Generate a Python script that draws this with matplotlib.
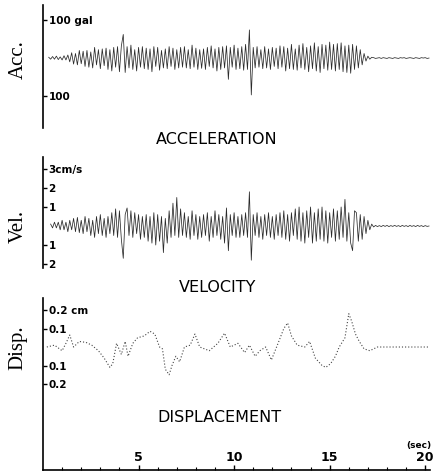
#import libraries
import numpy as np
import matplotlib.pyplot as plt

#acceleration record (gal), one sample every 0.1 sec starting at 0.3 sec
acc = [2, -3, 4, -3, 5, -4, 3, -5, 6, -5,
       8, -10, 14, -16, 12, -18, 20, -15, 18, -22,
       20, -24, 16, -26, 28, -18, 22, -28, 24, -20,
       26, -30, 22, -34, 28, -24, 30, -36, 32, 62,
       -38, 30, -26, 34, -30, 22, -34, 28, -24, 30,
       -28, 26, -30, 24, -36, 30, -22, 28, -32, 20,
       -26, 24, -28, 30, -22, 26, -30, 22, -26, 28,
       -24, 30, -26, 22, -28, 34, -24, 26, -30, 22,
       -27, 24, -30, 28, -22, 32, -26, 24, -34, 28,
       -30, 30, -26, 32, -56, 28, -24, 34, -30, 26,
       -28, 30, -32, 36, -30, 74, -97, 28, -26, 30,
       -24, 22, -28, 30, -26, 24, -30, 28, -22, 26,
       -28, 32, -24, 30, -34, 26, -28, 36, -30, 24,
       -32, 34, -26, 38, -30, 28, -36, 32, -28, 40,
       -34, 30, -38, 36, -28, 34, -32, 42, -30, 36,
       -34, 38, -30, 40, -36, 32, -38, 34, -40, 36,
       -30, 32, -26, 22, -18, 12, -8, 5, -3, 2,
       1, -1, 0, 1, -1, 1, 0, -1, 1, 0,
       -1, 1, 0, -1, 1, 0, 1, -1, 0, 1,
       0, -1, 1, 0, -1, 1, 0, 1, -1, 0]
acc_t0 = 0.3

#velocity record (cm/s), one sample every 0.1 sec starting at 0.4 sec
vel = [0.1, -0.1, 0.2, -0.1, 0.2, -0.2, 0.3, -0.2, 0.2, -0.3,
       0.3, -0.2, 0.4, -0.3, 0.45, -0.35, 0.3, -0.4, 0.5, -0.3,
       0.4, -0.5, 0.3, -0.6, 0.5, -0.4, 0.6, -0.5, 0.4, -0.6,
       0.5, -0.4, 0.7, -0.5, 0.9, -0.6, 0.8, -0.7, -1.7, 0.6,
       0.95, -0.5, 0.8, -0.6, 0.7, -0.4, 0.6, -0.7, 0.5, -0.6,
       0.6, -0.8, 0.5, -0.9, 0.7, -1.0, 0.6, -0.8, 0.5, -1.4,
       0.4, -0.9, 0.8, -0.6, 1.2, -0.5, 1.5, -0.6, 0.9, -0.5,
       0.7, -0.6, 0.5, -0.7, 0.8, -0.5, 0.6, -0.7, 0.5, -0.6,
       0.6, -0.5, 0.7, -0.8, 0.5, -0.6, 0.8, -0.5, 0.6, -0.7,
       0.5, -0.9, 0.95, -1.3, 0.6, -0.5, 0.7, -0.6, 0.5, -0.6,
       0.6, -0.5, 0.7, -0.6, 1.8, -1.8, 0.6, -0.5, 0.7, -0.6,
       0.5, -0.7, 0.6, -0.5, 0.7, -0.6, 0.5, -0.7, 0.6, -0.5,
       0.7, -0.6, 0.8, -0.7, 0.6, -0.8, 0.7, -0.5, 0.9, -0.7,
       1.0, -0.8, 0.7, -0.9, 0.8, -0.6, 1.0, -0.9, 0.7, -0.8,
       0.9, -0.7, 1.0, -0.8, 0.8, -0.9, 0.7, -0.6, 0.9, -0.8,
       0.8, -0.7, 1.0, -0.6, 1.4, -0.8, 0.7, -0.9, -1.3, 0.8,
       0.7, -0.8, 0.6, -0.7, 0.5, -0.4, 0.3, -0.2, 0.1, -0.05,
       0.03, -0.03, 0.02, -0.03, 0.03, -0.02, 0.03, -0.03, 0.02, -0.02,
       0.03, -0.02, 0.02, -0.03, 0.03, -0.02, 0.02, -0.03, 0.03, -0.02,
       0.02, -0.03, 0.03, -0.02, 0.02, -0.03, 0.02, -0.02, 0.0]
vel_t0 = 0.4

#displacement record (cm), read point by point
disp_t = [0.2, 0.6, 1.0, 1.2, 1.4, 1.6, 1.9, 2.25, 2.55, 2.9, 3.2, 3.5, 3.65, 3.85,
          4.1, 4.3, 4.45, 4.7, 4.95, 5.3, 5.6, 5.85, 6.1, 6.25, 6.4, 6.6, 6.75, 6.95,
          7.15, 7.4, 7.7, 7.95, 8.2, 8.7, 9.15, 9.5, 9.8, 10.2, 10.55, 10.8, 11.1,
          11.35, 11.65, 11.95, 12.3, 12.6, 12.8, 13.0, 13.3, 13.7, 13.95, 14.25, 14.6,
          14.8, 15.05, 15.3, 15.5, 15.8, 16.0, 16.15, 16.35, 16.55, 16.8, 17.1, 17.5,
          18.65, 19.7, 20.2]
disp = [0.0, 0.01, -0.02, 0.02, 0.065, 0.0, 0.03, 0.025, 0.01, -0.02, -0.06, -0.11, -0.09, 0.02,
        -0.04, 0.03, -0.05, 0.02, 0.05, 0.06, 0.085, 0.07, 0.0, -0.01, -0.12, -0.15, -0.1, -0.05,
        -0.08, 0.0, 0.01, 0.07, 0.0, -0.02, 0.02, 0.075, 0.0, 0.02, -0.03, 0.01, -0.05,
        -0.02, 0.0, -0.07, 0.02, 0.1, 0.13, 0.06, 0.01, 0.0, 0.03, -0.06, -0.1,
        -0.11, -0.09, -0.05, 0.0, 0.05, 0.18, 0.14, 0.07, 0.03, -0.01, -0.02, 0.0,
        0.0, 0.0, 0.0]

#tick labels
acc_ticks = [100, -100]
acc_labels = ["100 gal", "100"]
vel_ticks = [3, 2, 1, -1, -2]
vel_labels = ["3cm/s", "2", "1", "1", "2"]
disp_ticks = [0.2, 0.1, -0.1, -0.2]
disp_labels = ["0.2 cm", "0.1", "0.1", "0.2"]
time_ticks = [5, 10, 15, 20]

W, H = 433, 473
fig = plt.figure(figsize=(W/100, H/100), dpi=100)

def px_axes(top, bottom):
    #axes from pixel rows, x from pixel 43 to 430
    return fig.add_axes([43/W, 1-bottom/H, (430-43)/W, (bottom-top)/H])

ax_a = px_axes(5, 128)
ax_v = px_axes(157, 268)
ax_d = px_axes(298, 470)

t_acc = acc_t0 + 0.1*np.arange(len(acc))
t_vel = vel_t0 + 0.1*np.arange(len(vel))

ax_a.plot(t_acc, acc, color="#2a2a2a", lw=0.55)
ax_v.plot(t_vel, vel, color="#2a2a2a", lw=0.55)
ax_d.plot(disp_t, disp, color="#444444", lw=0.8, ls=(0, (1, 1.8)))

ax_a.set_ylim(-184, 139.5)
ax_v.set_ylim(-2.21, 3.63)
ax_d.set_ylim(-0.665, 0.265)

for ax, ticks, labels in [(ax_a, acc_ticks, acc_labels),
                          (ax_v, vel_ticks, vel_labels),
                          (ax_d, disp_ticks, disp_labels)]:
    ax.set_xlim(0, 20.25)
    for s in ["top", "right", "bottom"]:
        ax.spines[s].set_visible(False)
    ax.spines["left"].set_linewidth(1.2)
    ax.set_yticks(ticks)
    ax.set_yticklabels(labels)
    ax.tick_params(axis="y", direction="in", length=3, width=1, pad=-4, labelsize=7.5)
    for lab in ax.get_yticklabels():
        lab.set_ha("left")
        lab.set_fontweight("bold")
    ax.set_xticks([])
    ax.patch.set_visible(False)

#time axis on the lowest panel
ax_d.spines["bottom"].set_visible(True)
ax_d.spines["bottom"].set_linewidth(1.2)
ax_d.set_xticks(time_ticks)
ax_d.set_xticks(range(1, 21), minor=True)
ax_d.tick_params(axis="x", which="major", direction="in", length=3.5, width=1, pad=-4, labelsize=9)
ax_d.tick_params(axis="x", which="minor", direction="in", length=2, width=0.8)
for lab in ax_d.get_xticklabels():
    lab.set_va("bottom")
    lab.set_fontweight("bold")

fig.text(431/W, 1-445/H, "(sec)", ha="right", va="center", fontsize=6.5, fontweight="bold")

#panel titles
fig.text(217/W, 1-140/H, "ACCELERATION", ha="center", va="center", fontsize=11.5)
fig.text(218/W, 1-287/H, "VELOCITY", ha="center", va="center", fontsize=11.5)
fig.text(219/W, 1-417/H, "DISPLACEMENT", ha="center", va="center", fontsize=11.5)

#side labels
fig.text(18/W, 1-60/H, "Acc.", rotation=90, ha="center", va="center", fontsize=15, family="Liberation Serif")
fig.text(18/W, 1-226/H, "Vel.", rotation=90, ha="center", va="center", fontsize=15, family="Liberation Serif")
fig.text(18/W, 1-348/H, "Disp.", rotation=90, ha="center", va="center", fontsize=15, family="Liberation Serif")

fig.savefig("out.png", dpi=100)
